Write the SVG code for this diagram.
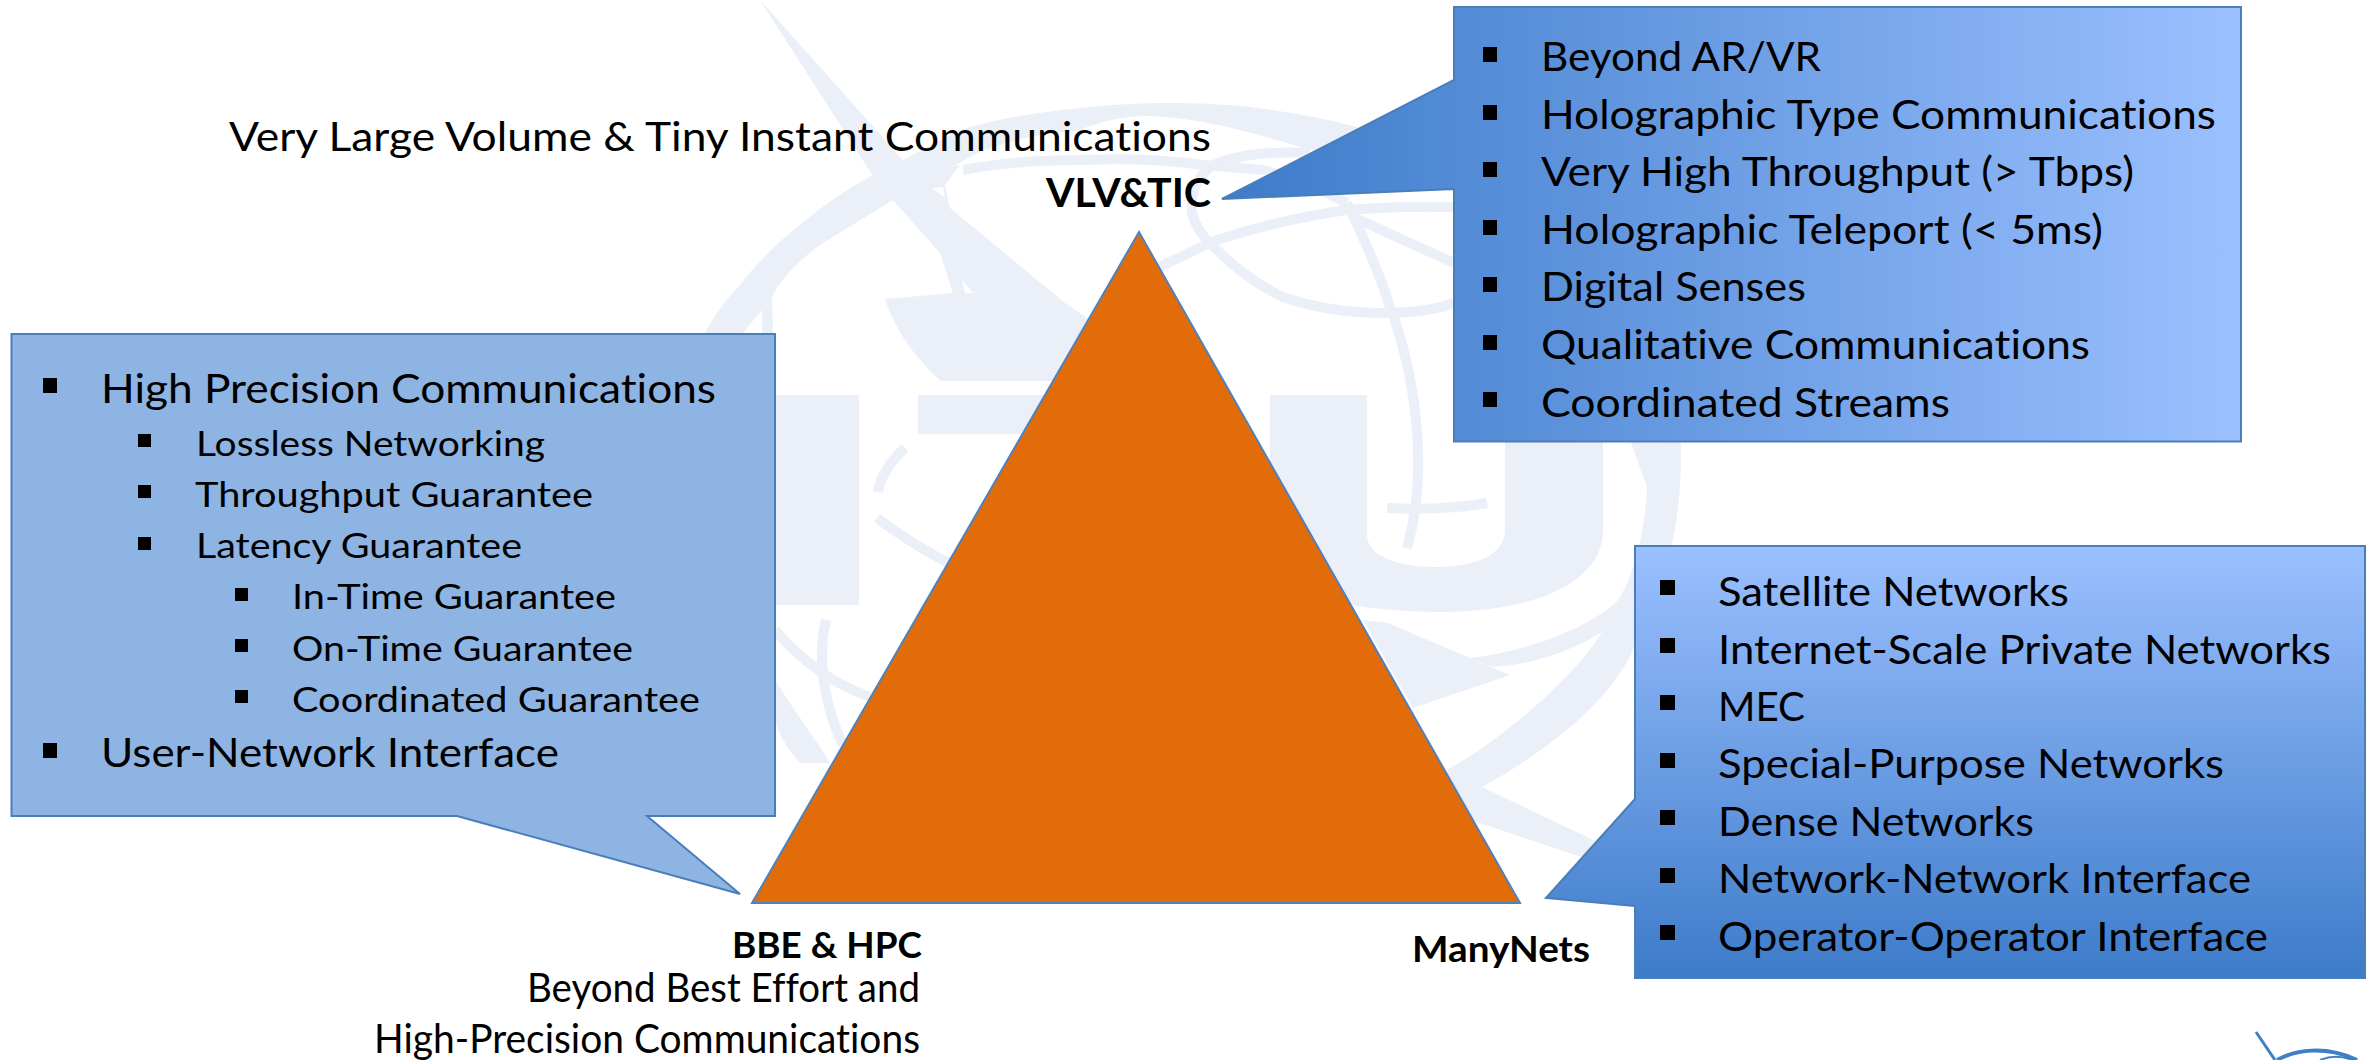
<svg xmlns="http://www.w3.org/2000/svg" width="2377" height="1060" viewBox="0 0 2377 1060">
<style>
text{font-family:Lato,"Open Sans","Liberation Sans",sans-serif;fill:#000;font-size:41px;font-variant-ligatures:none}
.s{font-size:35px}
.b{font-weight:700}
.l{font-size:37px}
.wm{fill:#EAEFF8;stroke:none}
.wl{fill:none;stroke:#EAEFF8;stroke-width:10}
.box{stroke:#4A7EBB;stroke-width:2}
.bul{fill:#000}
</style>
<defs>
<linearGradient id="gTop" gradientUnits="userSpaceOnUse" x1="1222" y1="0" x2="2241" y2="0"><stop offset="0" stop-color="#3D7BC9"/><stop offset="1" stop-color="#9BC0FF"/></linearGradient>
<linearGradient id="gRight" gradientUnits="userSpaceOnUse" x1="0" y1="546" x2="0" y2="978"><stop offset="0" stop-color="#9BC0FF"/><stop offset="1" stop-color="#3D7BC9"/></linearGradient>
</defs>
<rect width="2377" height="1060" fill="#fff"/>
<g id="watermark">
<path class="wm" d="M760,0 L903,160 L873,176 Z"/>
<path class="wm" d="M705,333 C715,315 727,298 740,285 C755,265 775,245 797,227 C820,208 845,190 873,175 L903,160 L960,130 C1000,118 1040,112 1080,108 C1140,101 1200,102 1250,107 C1290,112 1325,118 1357,127 L1460,170 L1460,190 L1300,147 C1260,135 1205,118 1150,116 C1120,116 1100,122 1080,130 C1030,135 985,145 960,163 C940,172 915,186 893,200 L823,243 C805,255 790,270 777,287 L772,297 L773,333 H762 V310 L743,333 Z"/>
<path class="wm" d="M893,200 L940,253 L953,293 L885,299 C895,330 915,358 941,381 L1090,381 L1090,320 L1065,303 L950,208 L945,185 L960,165 L930,170 Z"/>
<path d="M932,188 L943,187 L945,198 Z" fill="#fff"/>
<path d="M962,280 L973,293 L965,293 Z" fill="#fff"/>
<rect class="wm" x="760" y="395" width="99" height="210"/>
<rect class="wm" x="918" y="395" width="262" height="39"/>
<path class="wm" d="M1270,395 H1367 V535 C1367,555 1395,567 1435,567 C1475,567 1505,555 1505,530 V395 H1603 V530 C1603,585 1530,612 1440,612 C1375,612 1310,600 1270,585 Z"/>
<path class="wm" d="M1630,440 L1680,430 C1685,500 1670,590 1634,647 C1610,705 1540,755 1482,787 L1447,770 C1510,735 1580,670 1602,632 C1570,652 1530,665 1493,667 L1470,658 C1540,650 1600,620 1618,600 C1635,575 1645,530 1647,487 Z"/>
<path class="wm" d="M1363,620 L1388,623 L1470,658 L1510,675 L1413,708 Z"/>
<path class="wm" d="M1447,770 L1482,787 L1610,848 L1590,860 L1480,823 L1450,812 Z"/>
<path class="wm" d="M775,680 C800,720 820,745 830,763 L800,763 C785,745 775,730 775,713 Z"/>
<path class="wl" d="M905,448 C890,462 880,478 878,492"/>
<path class="wl" d="M877,518 C900,535 925,552 955,566"/>
<path class="wl" d="M826,620 C816,660 826,710 843,745"/>
<path class="wl" d="M775,630 C800,660 835,685 870,697"/>
<path class="wl" d="M1347,203 C1365,240 1380,275 1390,307 C1410,360 1432,460 1407,548"/>
<path class="wl" d="M1387,508 C1420,510 1460,508 1487,503"/>
<path class="wl" d="M1310,153 C1285,152 1265,153 1250,155 C1232,158 1218,162 1210,167 C1195,180 1190,197 1192,213 C1196,228 1205,240 1217,250 C1235,268 1258,285 1283,297 C1315,308 1350,313 1383,313 C1410,313 1435,310 1454,303"/>
<path class="wl" d="M1160,267 C1180,257 1198,248 1217,240 C1260,226 1305,216 1347,210 C1385,207 1420,206 1454,207"/>
<path class="wl" d="M1353,217 L1454,263"/>
<path class="wl" stroke-width="8" d="M963,170 C1000,163 1040,160 1080,160 C1125,158 1170,160 1203,165 C1225,167 1245,168 1263,170 C1295,178 1322,190 1347,203"/>
</g>
<g id="logo-corner" fill="none" stroke="#3F7FC8" stroke-width="4">
<path d="M2256,1032 L2275,1060" stroke-width="3"/>
<path d="M2277,1060 C2295,1050 2325,1045 2357,1060"/>
<path d="M2320,1060 C2330,1056 2340,1055 2352,1060" stroke-width="2"/>
</g>
<g id="triangle"><path d="M1139,232 L1520,903 H752 Z" fill="#E36C0A" stroke="#4F81BD" stroke-width="2"/></g>
<g id="callout-precision">
<path class="box" fill="#8EB4E3" d="M11.500,334 H775 V816 H647 L740,894 L457,816 H11.500 Z"/>
<rect class="bul" x="43" y="378" width="14" height="15"/><rect class="bul" x="43" y="743" width="14" height="15"/>
<rect class="bul" x="138" y="434" width="13" height="13"/><rect class="bul" x="138" y="485" width="13" height="13"/><rect class="bul" x="138" y="537" width="13" height="13"/>
<rect class="bul" x="235" y="588" width="13" height="13"/><rect class="bul" x="235" y="639" width="13" height="13"/><rect class="bul" x="235" y="690" width="13" height="13"/>
<text x="101" y="403" textLength="615" lengthAdjust="spacingAndGlyphs">High Precision Communications</text>
<text class="s" x="196" y="456" textLength="349" lengthAdjust="spacingAndGlyphs">Lossless Networking</text>
<text class="s" x="195" y="507" textLength="398" lengthAdjust="spacingAndGlyphs">Throughput Guarantee</text>
<text class="s" x="196" y="558" textLength="326" lengthAdjust="spacingAndGlyphs">Latency Guarantee</text>
<text class="s" x="292" y="609" textLength="324" lengthAdjust="spacingAndGlyphs">In-Time Guarantee</text>
<text class="s" x="292" y="661" textLength="341" lengthAdjust="spacingAndGlyphs">On-Time Guarantee</text>
<text class="s" x="292" y="712" textLength="408" lengthAdjust="spacingAndGlyphs">Coordinated Guarantee</text>
<text x="101" y="767" textLength="458" lengthAdjust="spacingAndGlyphs">User-Network Interface</text>
</g>
<g id="callout-vlv">
<path class="box" fill="url(#gTop)" d="M1454,7 H2241 V441.500 H1454 V189 L1222,199 L1454,80 Z"/>
<g class="bul"><rect x="1483" y="47" width="14" height="15"/><rect x="1483" y="105" width="14" height="15"/><rect x="1483" y="162" width="14" height="15"/><rect x="1483" y="220" width="14" height="15"/><rect x="1483" y="277" width="14" height="15"/><rect x="1483" y="335" width="14" height="15"/><rect x="1483" y="392" width="14" height="15"/></g>
<text x="1541" y="71" textLength="280" lengthAdjust="spacingAndGlyphs">Beyond AR/VR</text>
<text x="1541" y="129" textLength="675" lengthAdjust="spacingAndGlyphs">Holographic Type Communications</text>
<text x="1541" y="186" textLength="593" lengthAdjust="spacingAndGlyphs">Very High Throughput (&gt; Tbps)</text>
<text x="1541" y="244" textLength="562" lengthAdjust="spacingAndGlyphs">Holographic Teleport (&lt; 5ms)</text>
<text x="1541" y="301" textLength="265" lengthAdjust="spacingAndGlyphs">Digital Senses</text>
<text x="1541" y="359" textLength="549" lengthAdjust="spacingAndGlyphs">Qualitative Communications</text>
<text x="1541" y="416.500" textLength="409" lengthAdjust="spacingAndGlyphs">Coordinated Streams</text>
</g>
<g id="callout-manynets">
<path class="box" fill="url(#gRight)" d="M1635,546 H2365 V978 H1635 V906 L1546,898 L1635,799 Z"/>
<g class="bul"><rect x="1660" y="580" width="15" height="15"/><rect x="1660" y="638" width="15" height="15"/><rect x="1660" y="695" width="15" height="15"/><rect x="1660" y="753" width="15" height="15"/><rect x="1660" y="810" width="15" height="15"/><rect x="1660" y="868" width="15" height="15"/><rect x="1660" y="925" width="15" height="15"/></g>
<text x="1718" y="606" textLength="351" lengthAdjust="spacingAndGlyphs">Satellite Networks</text>
<text x="1718" y="663.500" textLength="613" lengthAdjust="spacingAndGlyphs">Internet-Scale Private Networks</text>
<text x="1718" y="721" textLength="87" lengthAdjust="spacingAndGlyphs">MEC</text>
<text x="1718" y="778" textLength="506" lengthAdjust="spacingAndGlyphs">Special-Purpose Networks</text>
<text x="1718" y="836" textLength="316" lengthAdjust="spacingAndGlyphs">Dense Networks</text>
<text x="1718" y="893" textLength="533" lengthAdjust="spacingAndGlyphs">Network-Network Interface</text>
<text x="1718" y="950.500" textLength="550" lengthAdjust="spacingAndGlyphs">Operator-Operator Interface</text>
</g>
<g id="label-vlv">
<text x="229" y="151" textLength="982" lengthAdjust="spacingAndGlyphs">Very Large Volume &amp; Tiny Instant Communications</text>
<text class="b" x="1046" y="207" textLength="165" lengthAdjust="spacingAndGlyphs">VLV&amp;TIC</text>
</g>
<g id="label-bbe">
<text class="b l" x="732" y="958" textLength="190" lengthAdjust="spacingAndGlyphs">BBE &amp; HPC</text>
<text x="527" y="1002" textLength="393" lengthAdjust="spacingAndGlyphs">Beyond Best Effort and</text>
<text x="374" y="1053" textLength="546" lengthAdjust="spacingAndGlyphs">High-Precision Communications</text>
</g>
<g id="label-manynets"><text class="b l" x="1412" y="962" textLength="178" lengthAdjust="spacingAndGlyphs">ManyNets</text></g>
</svg>
